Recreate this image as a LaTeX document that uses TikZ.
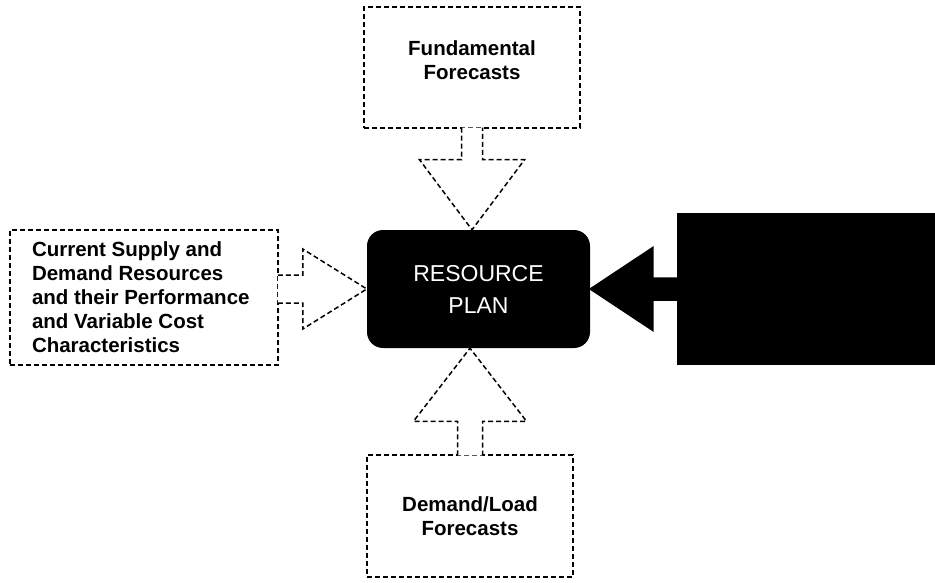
\documentclass[tikz,border=0pt]{standalone}
\usepackage{fontspec}
\setmainfont{Liberation Sans}
\usetikzlibrary{calc, positioning}

\tikzset{
  inbox/.style={draw, dash pattern=on 5pt off 3pt, line width=1.5pt, fill=white,
    font=\bfseries\fontsize{20.5}{24}\selectfont, align=center, inner sep=0pt},
  planbox/.style={fill=black, rounded corners=16pt, text=white,
    font=\fontsize{23}{32}\selectfont, align=center},
  notebox/.style={fill=black, inner sep=0pt},
  feed/.style={draw, dash pattern=on 5pt off 3pt, line width=1.5pt, fill=white},
  feedblack/.style={draw, line width=1.5pt, fill=black},
}

\begin{document}
\begin{tikzpicture}[x=1pt, y=-1pt]
\useasboundingbox (0,0) rectangle (935,583);
% nodes %
\node[planbox, minimum width=223pt, minimum height=118pt] (plan) at (478.5,289) {RESOURCE\\PLAN};
\node[inbox, minimum width=216pt, minimum height=121pt] (fund) at (472,67.5) {Fundamental\\Forecasts\\[-9pt]};
\node[inbox, minimum width=268pt, minimum height=135pt] (supply) at (144,297.5)
  {\raisebox{5pt}{\parbox{224pt}{\raggedright Current Supply and\\Demand Resources\\and their Performance\\and Variable Cost\\Characteristics}}};
\node[inbox, minimum width=206pt, minimum height=122pt] (load) at (470,516) {Demand/Load\\Forecasts};
\node[notebox, minimum width=258pt, minimum height=152pt] (note) at (806,289) {};
% edges %
\path[feed] ($(fund.south)+(-10.5,-1)$) -- ++(0,32) -- ++(-42,0) -- (fund.south |- plan.north)
  -- ($(fund.south)+(52.5,31)$) -- ++(-42,0) -- ++(0,-32);
\path[feed] ($(load.north)+(-12.5,1)$) -- ++(0,-34) -- ++(-44,0) -- (load.north |- plan.south)
  -- ($(load.north)+(56.5,-33)$) -- ++(-44,0) -- ++(0,34);
\path[feed] ($(supply.east |- plan.west)+(-1,-14)$) -- ++(25,0) -- ++(0,-26) -- (plan.west)
  -- ($(supply.east |- plan.west)+(24,40)$) -- ++(0,-26) -- ++(-25,0);
\path[feedblack] ($(note.west |- plan.east)+(1,-11)$) -- ++(-25,0) -- ++(0,-30.5) -- (plan.east)
  -- ($(note.west |- plan.east)+(-24,41.5)$) -- ++(0,-30.5) -- ++(25,0);
\end{tikzpicture}
\end{document}
